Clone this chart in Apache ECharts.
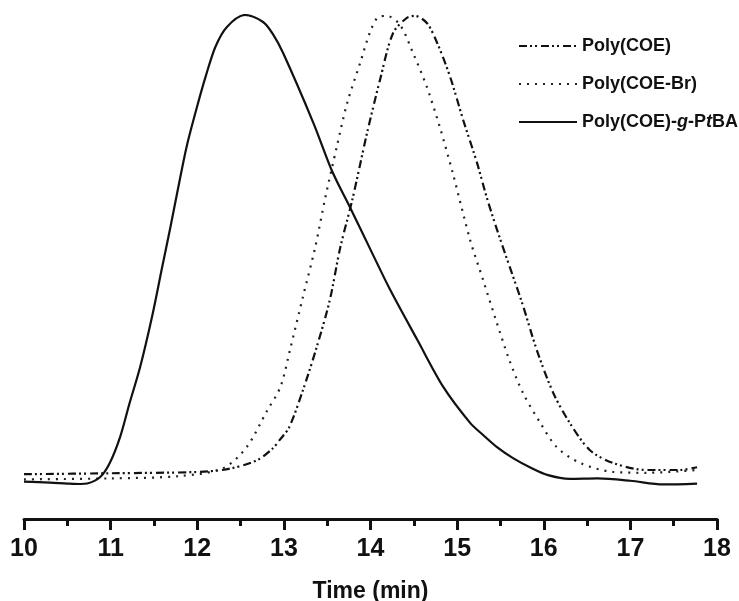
<!DOCTYPE html>
<html>
<head>
<meta charset="utf-8">
<script src="https://cdn.jsdelivr.net/npm/echarts@6/dist/echarts.min.js"></script>
<style>
  html, body { margin: 0; padding: 0; background: #fff; }
  #chart { width: 739px; height: 601px; }
</style>
</head>
<body>
<div id="chart"></div>
<script>
// GPC traces: [time (min), normalised intensity]
const poly_coe = [
  [10.0, 0.016], [11.0, 0.018], [12.03, 0.021], [12.38, 0.028], [12.69, 0.046],
  [12.87, 0.071], [12.95, 0.089], [13.06, 0.116], [13.22, 0.196], [13.38, 0.289],
  [13.53, 0.389], [13.65, 0.501], [13.79, 0.604], [13.96, 0.747], [14.11, 0.861],
  [14.26, 0.961], [14.42, 0.994], [14.51, 0.998], [14.65, 0.983], [14.77, 0.940],
  [14.92, 0.867], [15.07, 0.775], [15.23, 0.683], [15.35, 0.604], [15.50, 0.518],
  [15.75, 0.383], [15.92, 0.282], [16.11, 0.190], [16.30, 0.126], [16.53, 0.068],
  [16.80, 0.040], [17.19, 0.025], [17.57, 0.025], [17.77, 0.031]
];
const poly_coe_br = [
  [10.0, 0.005], [11.0, 0.007], [11.8, 0.012], [12.30, 0.029], [12.57, 0.074],
  [12.80, 0.150], [12.96, 0.203], [13.07, 0.282], [13.22, 0.396],
  [13.36, 0.501], [13.48, 0.610], [13.61, 0.717], [13.73, 0.811], [13.88, 0.897],
  [13.99, 0.961], [14.08, 0.994], [14.19, 0.998], [14.34, 0.979], [14.49, 0.919],
  [14.65, 0.846], [14.80, 0.760], [14.95, 0.661], [15.15, 0.518], [15.30, 0.432],
  [15.44, 0.351], [15.60, 0.262], [15.76, 0.190], [15.96, 0.126],
  [16.15, 0.074], [16.42, 0.040], [16.80, 0.021], [17.19, 0.019], [17.77, 0.025]
];
const poly_coe_g_ptba = [
  [10.0, 0.0], [10.3, -0.002], [10.5, -0.004], [10.65, -0.005], [10.73, -0.004],
  [10.88, 0.010], [10.99, 0.040], [11.11, 0.096], [11.22, 0.169], [11.34, 0.245],
  [11.48, 0.355], [11.59, 0.455], [11.69, 0.545], [11.78, 0.630], [11.88, 0.720],
  [12.00, 0.805], [12.10, 0.870], [12.21, 0.932], [12.34, 0.974], [12.55, 1.0],
  [12.76, 0.985], [12.87, 0.960], [12.99, 0.919], [13.34, 0.769], [13.56, 0.664],
  [13.76, 0.589], [13.99, 0.501], [14.23, 0.410], [14.54, 0.304],
  [14.84, 0.203], [15.15, 0.126], [15.30, 0.100], [15.46, 0.074], [15.65, 0.050],
  [15.85, 0.030], [16.05, 0.014], [16.30, 0.006], [16.62, 0.007], [17.0, 0.002],
  [17.38, -0.006], [17.77, -0.004]
];
const seriesNames = ['Poly(COE)', 'Poly(COE-Br)', 'Poly(COE)-g-PtBA'];

const chart = echarts.init(document.getElementById('chart'));

const option = {
  backgroundColor: '#fff',
  animation: false,
  color: ['#111', '#222', '#111'],
  grid: { left: 24, right: 22, top: 15, bottom: 82, outerBoundsMode: 'none' },
  legend: {
    orient: 'vertical',
    left: 513,
    top: 31,
    itemWidth: 58,
    itemHeight: 20,
    itemGap: 18,
    data: seriesNames,
    itemStyle: { color: 'rgba(0,0,0,0)', borderWidth: 0 },
    formatter: (name) => name === 'Poly(COE)-g-PtBA' ? 'Poly(COE)-{i|g}-P{i|t}BA' : name,
    textStyle: {
      fontFamily: 'Liberation Sans, Arial',
      fontWeight: 'bold',
      fontSize: 18,
      lineHeight: 20,
      color: '#111',
      rich: {
        i: { fontFamily: 'Liberation Sans, Arial', fontWeight: 'bold', fontStyle: 'italic', fontSize: 18, color: '#111' }
      }
    }
  },
  xAxis: {
    type: 'value',
    min: 10,
    max: 18,
    interval: 1,
    name: 'Time (min)',
    nameLocation: 'middle',
    nameGap: 61,
    nameTextStyle: { fontFamily: 'Liberation Sans, Arial', fontWeight: 'bold', fontSize: 23, color: '#111' },
    axisLine: { onZero: false, lineStyle: { color: '#111', width: 3 } },
    axisTick: { length: 11, lineStyle: { color: '#111', width: 3 } },
    minorTick: { show: true, splitNumber: 2, length: 7, lineStyle: { color: '#111', width: 3 } },
    axisLabel: { margin: 18, fontFamily: 'Liberation Sans, Arial', fontWeight: 'bold', fontSize: 25, color: '#111' },
    splitLine: { show: false }
  },
  yAxis: {
    type: 'value',
    min: -0.08,
    max: 1.0,
    show: false
  },
  series: [
    {
      name: seriesNames[0], type: 'line', data: poly_coe, symbol: 'none', smooth: 0.3,
      lineStyle: { color: '#111', width: 2.2, type: [8, 3, 2, 3, 2, 4] }
    },
    {
      name: seriesNames[1], type: 'line', data: poly_coe_br, symbol: 'none', smooth: 0.3,
      lineStyle: { color: '#222', width: 2.2, type: [2, 6] }
    },
    {
      name: seriesNames[2], type: 'line', data: poly_coe_g_ptba, symbol: 'none', smooth: 0.3,
      lineStyle: { color: '#111', width: 2.2, type: 'solid' }
    }
  ]
};

chart.setOption(option);
</script>
</body>
</html>
